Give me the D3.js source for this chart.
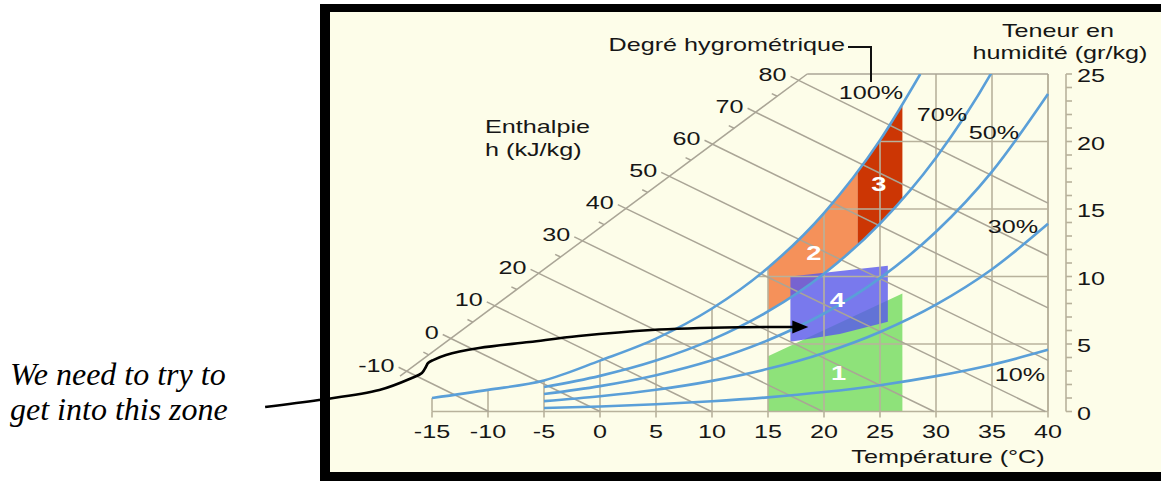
<!DOCTYPE html>
<html><head><meta charset="utf-8">
<script src="https://cdn.jsdelivr.net/npm/d3@7"></script>
<style>body{margin:0;background:#fff;} svg{display:block;}</style>
</head><body><svg id="c" width="1161" height="481"></svg>
<script>
// ---- data ----
const tempTicks = [-15,-10,-5,0,5,10,15,20,25,30,35,40];
const humidityTicks = [0,5,10,15,20,25];
const enthalpyTicks = [-10,0,10,20,30,40,50,60,70,80];
const enthalpyMinor = [-5,5,15,25,35,45,55,65,75];
const satTemps = [-15,-10,-5,0,5,10,15,20,25,28.6];
const satHumidity = [1.0,1.6,2.3,3.77,5.40,7.63,10.65,14.7,20.1,25];
const rhTemps = [-5,0,5,10,15,20,25,30,35,40];
const rh70 = [1.81,2.64,3.77,5.32,7.41,10.21,13.92,18.80,25.16,33.4];
const rh50 = [1.29,1.88,2.69,3.79,5.28,7.26,9.88,13.31,17.77,23.52];
const rh30 = [0.77,1.13,1.61,2.27,3.16,4.34,5.89,7.92,10.54,13.90];
const rh10 = [0.26,0.375,0.536,0.755,1.048,1.439,1.95,2.62,3.47,4.57];
const rhNames = ["100%","70%","50%","30%","10%"];
const zone1 = [[15,0],[15,4.1],[27,8.75],[27,0]];
const zone2Span = [15,23];
const zone3Span = [23,27];
const zone4 = [[17,5.17],[21.4,5.75],[25.7,6.65],[25.7,10.8],[17,10.0]];
const zoneNames = ["1","2","3","4"];
const zoneLabelAt = [[21.3,2.9],[19.1,11.8],[24.9,16.9],[21.2,8.3]];
const arrowPts = [[-29.9,0.33],[-25.1,0.85],[-19.7,1.59],[-16.8,2.48],[-15.9,2.85],[-15.55,3.3],[-15.35,3.59],[-14.9,3.81],[-13.75,4.19],[-10.8,4.7],[-6.3,5.15],[-1.9,5.59],[4.6,6.04],[12.4,6.24],[17.3,6.26]];
const arrowTip = [18.6,6.26];
const diagStart = [-17.4,2.9], diagEnd = [18.5,25];

// ---- setup ----
const svg = d3.select('#c');
const x = d3.scaleLinear().domain([-15,40]).range([432,1048]);
const y = d3.scaleLinear().domain([0,25]).range([411.5,74]);
const SX = 1.4;
const FONT = "'Liberation Sans', Arial, sans-serif";
const GRID = '#b8b29c', BLUE = '#5a9fd8', CREAM = '#fdfde9';

// frame
svg.append('rect').attr('x',320).attr('y',4).attr('width',900).attr('height',500).attr('fill','#000');
svg.append('rect').attr('x',330).attr('y',12).attr('width',900).attr('height',460).attr('fill',CREAM);

const defs = svg.append('defs');
const lineGen = d3.line().x(d=>x(d[0])).y(d=>y(d[1])).curve(d3.curveMonotoneX);
const satPts = satTemps.map((t,i)=>[t,satHumidity[i]]);
const satPath = lineGen(satPts);
defs.append('clipPath').attr('id','underSat').append('path')
  .attr('d', satPath + `L${x(45)},${y(25)}L${x(45)},${y(-2)}L${x(-20)},${y(-2)}L${x(-20)},${y(satHumidity[0])}Z`);
const p70 = rhTemps.map((t,i)=>[t,rh70[i]]);
defs.append('clipPath').attr('id','above70').append('path')
  .attr('d', lineGen(p70) + `L${x(45)},${y(rh70[rh70.length-1])}L${x(45)},${y(60)}L${x(-20)},${y(60)}L${x(-20)},${y(rh70[0])}Z`);
defs.append('clipPath').attr('id','top25').append('rect')
  .attr('x',0).attr('y',y(25)).attr('width',1161).attr('height',481-y(25));

// ---- zones ----
const poly = d3.line().x(d=>x(d[0])).y(d=>y(d[1]));
svg.append('path').attr('d', poly(zone1)+'Z').attr('fill','#8ee27a');
const zg = svg.append('g').attr('clip-path','url(#underSat)').append('g').attr('clip-path','url(#above70)');
zg.append('rect').attr('x',x(zone2Span[0])).attr('width',x(zone2Span[1])-x(zone2Span[0]))
  .attr('y',y(25)).attr('height',y(0)-y(25)).attr('fill','#f5915a');
zg.append('rect').attr('x',x(zone3Span[0])).attr('width',x(zone3Span[1])-x(zone3Span[0]))
  .attr('y',y(25)).attr('height',y(0)-y(25)).attr('fill','#cc3604');
svg.append('path').attr('d', poly(zone4)+'Z').attr('fill','#5858ee').attr('opacity',0.8);

// ---- grid ----
const grid = svg.append('g').attr('stroke',GRID).attr('stroke-width',1.6).attr('fill','none');
const gc = grid.append('g').attr('clip-path','url(#underSat)');
tempTicks.forEach(t=>gc.append('line').attr('x1',x(t)).attr('x2',x(t)).attr('y1',y(0)).attr('y2',y(25)));
humidityTicks.filter(v=>v>0&&v<25).forEach(v=>gc.append('line').attr('x1',x(-15)).attr('x2',x(40)).attr('y1',y(v)).attr('y2',y(v)));
tempTicks.forEach(t=>grid.append('line').attr('x1',x(t)).attr('x2',x(t)).attr('y1',y(0)).attr('y2',y(0)+6));
grid.append('line').attr('x1',x(-15)).attr('x2',x(40)).attr('y1',y(0)).attr('y2',y(0));
grid.append('line').attr('x1',x(40)).attr('x2',x(40)).attr('y1',y(0)).attr('y2',y(25));

// enthalpy
const hOf = (T,w)=>1.006*T + w*(2.501+0.00186*T);
const diagAt = h=>{
  let lo=-0.3, hi=1.1;
  const P = s=>[diagStart[0]+s*(diagEnd[0]-diagStart[0]), diagStart[1]+s*(diagEnd[1]-diagStart[1])];
  for(let k=0;k<60;k++){const m=(lo+hi)/2; if(hOf(...P(m))<h) lo=m; else hi=m;}
  return P((lo+hi)/2);
};
const hEnd = h=> h/1.006<=40 ? [h/1.006,0] : [40,(h-40*1.006)/(2.501+0.00186*40)];
const ent = svg.append('g').attr('stroke','#aaa596').attr('stroke-width',1.5).attr('fill','none');
const d0 = diagAt(-11.5);
ent.append('line').attr('x1',x(d0[0])).attr('y1',y(d0[1])).attr('x2',x(diagEnd[0])).attr('y2',y(diagEnd[1]));
ent.append('line').attr('x1',x(diagEnd[0])).attr('y1',y(25)).attr('x2',x(40)).attr('y2',y(25));
const entLabels = [];
enthalpyTicks.concat(enthalpyMinor).forEach(h=>{
  const a=diagAt(h), b=hEnd(h);
  const ax=x(a[0]), ay=y(a[1]), bx=x(b[0]), by=y(b[1]);
  const L=Math.hypot(bx-ax,by-ay), ux=(bx-ax)/L, uy=(by-ay)/L;
  const major = enthalpyTicks.includes(h);
  const ext = major?9:6;
  const sx=ax-ext*ux, sy=ay-ext*uy;
  if(major){
    ent.append('line').attr('x1',sx).attr('y1',sy).attr('x2',bx).attr('y2',by);
    entLabels.push([sx-4, sy-2, String(h)]);
  } else {
    ent.append('line').attr('x1',sx).attr('y1',sy).attr('x2',ax).attr('y2',ay);
  }
});

// ---- RH curves ----
const rc = svg.append('g').attr('fill','none').attr('stroke',BLUE).attr('stroke-width',2.6).attr('clip-path','url(#top25)');
rc.append('path').attr('d',satPath);
[rh70,rh50,rh30,rh10].forEach(arr=>rc.append('path').attr('d',lineGen(rhTemps.map((t,i)=>[t,arr[i]]))));

// right axis
const ra = svg.append('g').attr('stroke',GRID).attr('stroke-width',1.6);
ra.append('line').attr('x1',1066).attr('x2',1066).attr('y1',y(0)).attr('y2',y(25));
d3.range(0,26).forEach(v=>ra.append('line').attr('x1',1066).attr('x2',1072).attr('y1',y(v)).attr('y2',y(v)));

// ---- text ----
function label(px,py,str,anchor,opts={}){
  return svg.append('text').attr('transform',`translate(${px},${py}) scale(${opts.sx||SX},1)`)
    .attr('text-anchor',anchor).attr('dy','0.35em')
    .attr('font-family',FONT).attr('font-size',opts.size||18).attr('font-weight',opts.weight||'normal')
    .attr('fill',opts.fill||'#161616').text(str);
}
tempTicks.forEach(t=>label(x(t),432,String(t),'middle'));
humidityTicks.forEach(v=>label(1077,y(v)+2,String(v),'start'));
entLabels.forEach(d=>label(d[0],d[1],d[2],'end'));
label(948,457,'Température (°C)','middle');
label(1058,31,'Teneur en','middle');
label(1060,53,'humidité (gr/kg)','middle');
label(485,127,'Enthalpie','start');
label(485,150,'h (kJ/kg)','start');
label(845,45,'Degré hygrométrique','end');
svg.append('path').attr('d','M848,47H871V82').attr('fill','none').attr('stroke','#111').attr('stroke-width',2);
const rhPos = [[871,93],[942,115],[994,133],[1013,227],[1020,375]];
rhNames.forEach((n,i)=>label(rhPos[i][0],rhPos[i][1],n,'middle'));
zoneNames.forEach((n,i)=>label(x(zoneLabelAt[i][0]),y(zoneLabelAt[i][1]),n,'middle',{size:21,weight:'bold',fill:'#fff',sx:1.3}));

// ---- annotation ----
svg.append('path').attr('d', d3.line().x(d=>x(d[0])).y(d=>y(d[1])).curve(d3.curveCatmullRom)(arrowPts))
  .attr('fill','none').attr('stroke','#000').attr('stroke-width',2.6);
const tx=x(arrowTip[0]), ty=y(arrowTip[1]);
svg.append('path').attr('d',`M${tx},${ty}L${tx-16},${ty-6.5}L${tx-16},${ty+6.5}Z`).attr('fill','#000');
svg.append('text').attr('x',10).attr('y',385).attr('font-family',"'Liberation Serif','Times New Roman',serif")
  .attr('font-style','italic').attr('font-size',32).attr('fill','#000').text('We need to try to');
svg.append('text').attr('x',10).attr('y',420).attr('font-family',"'Liberation Serif','Times New Roman',serif")
  .attr('font-style','italic').attr('font-size',32).attr('fill','#000').text('get into this zone');
</script></body></html>
